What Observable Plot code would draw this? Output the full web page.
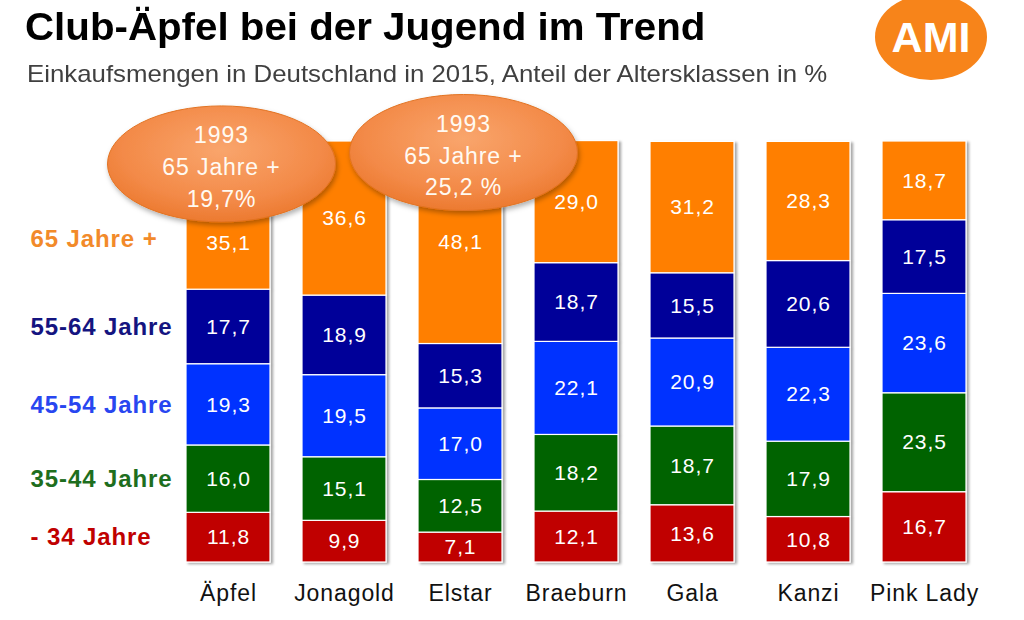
<!DOCTYPE html>
<html>
<head>
<meta charset="utf-8">
<script src="https://cdn.jsdelivr.net/npm/d3@7"></script>
<script src="https://cdn.jsdelivr.net/npm/@observablehq/plot@0.6"></script>
<style>
  body { margin: 0; background: #fff; font-family: "Liberation Sans", Arial, sans-serif; }
  #wrap { position: relative; width: 1024px; height: 620px; overflow: hidden; }
  #header { position: relative; height: 88px; }
  #title { position: absolute; left: 25px; top: 8px; margin: 0; font-size: 38px; line-height: 38px; font-weight: bold; color: #000; white-space: nowrap; transform: scaleX(1.06); transform-origin: 0 0; }
  #subtitle { position: absolute; left: 27px; top: 62px; margin: 0; font-size: 24px; line-height: 24px; color: #404040; white-space: nowrap; transform: scaleX(1.075); transform-origin: 0 0; }
  #logo { position: absolute; left: 875px; top: -6px; width: 112px; height: 86px; border-radius: 50%; background: #F7841A; color: #fff; font-weight: bold; font-size: 43px; line-height: 86px; text-align: center; }
  #chart svg { display: block; }
</style>
</head>
<body>
<div id="wrap">
  <div id="header">
    <h1 id="title">Club-Äpfel bei der Jugend im Trend</h1>
    <div id="subtitle">Einkaufsmengen in Deutschland in 2015, Anteil der Altersklassen in %</div>
    <div id="logo">AMI</div>
  </div>
  <div id="chart"></div>
</div>
<script>
// ---- data ----
const apples = ["Äpfel", "Jonagold", "Elstar", "Braeburn", "Gala", "Kanzi", "Pink Lady"];
const ageGroups = ["- 34 Jahre", "35-44 Jahre", "45-54 Jahre", "55-64 Jahre", "65 Jahre +"];
const under35   = [11.8,  9.9,  7.1, 12.1, 13.6, 10.8, 16.7];
const age35to44 = [16.0, 15.1, 12.5, 18.2, 18.7, 17.9, 23.5];
const age45to54 = [19.3, 19.5, 17.0, 22.1, 20.9, 22.3, 23.6];
const age55to64 = [17.7, 18.9, 15.3, 18.7, 15.5, 20.6, 17.5];
const age65plus = [35.1, 36.6, 48.1, 29.0, 31.2, 28.3, 18.7];
const annApples = ["Äpfel", "Elstar"];
const annYear   = ["1993", "1993"];
const annGroup  = ["65 Jahre +", "65 Jahre +"];
const annText   = ["19,7%", "25,2 %"];

// ---- styles ----
const segColors   = ["#C00000", "#006400", "#0033FF", "#000099", "#FF7F00"];
const labelColors = ["#C00000", "#1E6E1E", "#2846F0", "#141480", "#F28A2A"];
const annOffset   = [{dx: -7, dy: 22}, {dx: 3, dy: 11}];

// ---- build table ----
const seriesByAge = [under35, age35to44, age45to54, age55to64, age65plus];
const rows = [];
ageGroups.forEach((age, k) => apples.forEach((apple, i) => rows.push({apple, age, value: seriesByAge[k][i]})));
const fmt = v => v.toFixed(1).replace(".", ",");
const isTopFirst = d => d.apple === apples[0] && d.age === ageGroups[ageGroups.length - 1];

const annotations = annApples.map((apple, i) => ({
  apple,
  total: d3.sum(seriesByAge, s => s[apples.indexOf(apple)]),
  lines: [annYear[i], annGroup[i], annText[i]].join("\n")
}));

const marks = [
  Plot.barY(rows, {x: "apple", y: "value", fill: "age", stroke: "white", strokeWidth: 1.2}),
  Plot.text(rows, Plot.stackY({x: "apple", y: "value", z: "age",
    text: d => isTopFirst(d) ? null : fmt(d.value), fill: "white", fontSize: 21})),
  Plot.text(rows, Plot.stackY({x: "apple", y: "value", z: "age",
    text: d => isTopFirst(d) ? fmt(d.value) : null, fill: "white", fontSize: 21, dy: 27}))
];

// legend labels next to the first bar
ageGroups.forEach((g, k) => {
  marks.push(Plot.text(rows, Plot.stackY({x: "apple", y: "value", z: "age",
    text: d => (d.apple === apples[0] && d.age === g) ? g : null,
    fill: labelColors[k], fontSize: 24, fontWeight: "bold", textAnchor: "start",
    dx: -198, dy: k === ageGroups.length - 1 ? 24 : 0})));
});

// annotation bubbles
annotations.forEach((a, i) => {
  marks.push(Plot.dot([a], {x: "apple", y: "total", r: 10, fill: "#F58A45", stroke: "none",
    dx: annOffset[i].dx, dy: annOffset[i].dy}));
  marks.push(Plot.text([a], {x: "apple", y: "total", text: "lines", fill: "#FFFAF2", fontSize: 23,
    lineHeight: 1.38, dx: annOffset[i].dx, dy: annOffset[i].dy + 1}));
});

const svg = Plot.plot({
  width: 1024,
  height: 532,
  marginLeft: 183,
  marginRight: 54,
  marginTop: 53,
  marginBottom: 58,
  style: {fontFamily: "'Liberation Sans', Arial, sans-serif", fontSize: "23px", color: "#111", background: "transparent", letterSpacing: "0.9px", overflow: "visible"},
  x: {domain: apples, paddingInner: 0.2735, paddingOuter: 0, align: 0.5, tickSize: 0, tickPadding: 22, label: null},
  y: {domain: [0, 100], axis: null},
  color: {domain: ageGroups, range: segColors},
  marks
});

// defs: gradient and shadows
const defs = d3.select(svg).insert("defs", ":first-child");
defs.html(`
  <radialGradient id="annGrad" cx="50%" cy="38%" r="62%">
    <stop offset="0%" stop-color="#F9A56C"/>
    <stop offset="70%" stop-color="#F38A48"/>
    <stop offset="100%" stop-color="#EC7A30"/>
  </radialGradient>
  <filter id="annShadow" x="-20%" y="-20%" width="140%" height="150%">
    <feDropShadow dx="1.5" dy="3" stdDeviation="2.5" flood-color="#000" flood-opacity="0.3"/>
  </filter>
  <filter id="barShadow" x="-10%" y="-5%" width="125%" height="115%">
    <feDropShadow dx="2.5" dy="1.5" stdDeviation="1.2" flood-color="#000" flood-opacity="0.35"/>
  </filter>
`);
d3.select(svg).selectAll('g[aria-label="bar"]').attr("filter", "url(#barShadow)");
// turn annotation dots into ellipses
d3.select(svg).selectAll('g[aria-label="dot"] circle').each(function() {
  const e = document.createElementNS("http://www.w3.org/2000/svg", "ellipse");
  e.setAttribute("cx", this.getAttribute("cx"));
  e.setAttribute("cy", this.getAttribute("cy"));
  e.setAttribute("rx", 114);
  e.setAttribute("ry", 58);
  e.setAttribute("fill", "url(#annGrad)");
  e.setAttribute("stroke", "#E27322");
  e.setAttribute("stroke-width", 1);
  e.setAttribute("filter", "url(#annShadow)");
  this.replaceWith(e);
});

document.getElementById("chart").appendChild(svg);
</script>
</body>
</html>
